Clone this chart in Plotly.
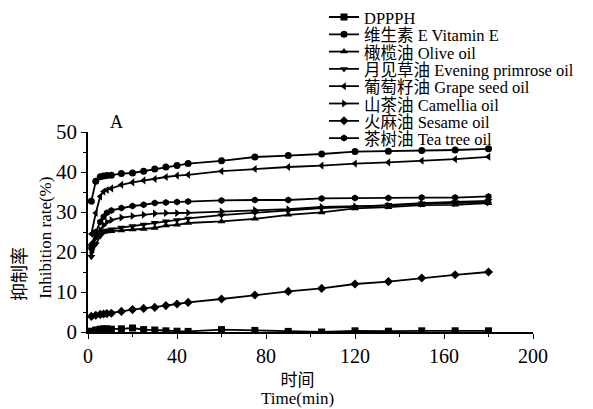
import plotly.graph_objects as go

time_min = [1.5, 3.5, 5.5, 7, 8.5, 10.5, 15, 20, 25, 30, 35, 40, 45, 60, 75, 90, 105, 120, 135, 150, 165, 180]

dppph = [0.2, 0.5, 0.7, 0.8, 0.8, 0.7, 0.8, 1.0, 0.6, 0.5, 0.3, 0.2, 0.15, 0.6, 0.4, 0.15, 0.0, 0.3, 0.2, 0.3, 0.3, 0.3]
vitamin_e = [32.7, 37.7, 38.8, 39.0, 39.1, 39.2, 39.6, 39.75, 40.2, 40.75, 41.25, 41.6, 42.1, 42.8, 43.75, 44.1, 44.5, 45.1, 45.2, 45.4, 45.5, 45.8]
olive = [22.0, 24.3, 24.8, 25.0, 25.1, 25.2, 25.4, 25.6, 25.75, 26.0, 26.6, 26.8, 27.25, 27.65, 28.3, 29.3, 29.9, 30.9, 31.2, 31.7, 31.8, 32.2]
evening_primrose = [18.8, 22.0, 24.0, 25.0, 25.4, 25.7, 26.1, 26.5, 26.9, 27.3, 27.7, 28.0, 28.4, 29.2, 29.8, 30.3, 31.0, 31.3, 31.8, 32.2, 32.5, 32.8]
grape_seed = [24.5, 29.75, 33.9, 35.1, 35.5, 35.9, 36.8, 37.4, 37.9, 38.25, 38.75, 39.1, 39.3, 40.2, 40.75, 41.25, 41.6, 42.1, 42.4, 42.8, 43.2, 43.8]
camellia = [20.0, 23.5, 25.5, 26.7, 27.5, 28.0, 28.6, 29.0, 29.3, 29.6, 29.75, 29.75, 29.8, 30.15, 30.5, 30.7, 31.25, 31.4, 31.6, 32.1, 32.2, 32.4]
sesame = [3.9, 4.2, 4.4, 4.5, 4.6, 4.7, 5.15, 5.6, 5.9, 6.15, 6.6, 7.0, 7.4, 8.25, 9.25, 10.15, 10.9, 12.0, 12.6, 13.5, 14.3, 15.0]
tea_tree = [21.0, 25.0, 27.5, 28.8, 29.8, 30.4, 31.0, 31.5, 31.8, 32.25, 32.4, 32.5, 32.65, 32.9, 33.0, 33.0, 33.4, 33.5, 33.5, 33.6, 33.6, 33.9]

series_names = ["DPPPH", "维生素 E Vitamin E", "橄榄油 Olive oil", "月见草油 Evening primrose oil",
                "葡萄籽油 Grape seed oil", "山茶油 Camellia oil", "火麻油 Sesame oil", "茶树油 Tea tree oil"]
series_values = [dppph, vitamin_e, olive, evening_primrose, grape_seed, camellia, sesame, tea_tree]
symbols = ["square", "circle", "triangle-up", "triangle-down", "triangle-left", "triangle-right", "diamond", "hexagon"]

x_ticks = [0, 40, 80, 120, 160, 200]
y_ticks = [0, 10, 20, 30, 40, 50]
x_title_lines = ["时间", "Time(min)"]

SERIF = "Liberation Serif, Noto Sans CJK SC, serif"

# plot area: 88..533 px horizontally, 132..332 px vertically
PLOT_LEFT, PLOT_W = 88, 445
PLOT_TOP, PLOT_H = 132, 200
LEGEND_FIRST_PX, LEGEND_STEP_PX = 17, 17.3
LEGEND_TEXT_SIZE = 16.5
LINE_EM = 1.3

fig = go.Figure()
legend_layouts = {}
for i, (name, vals, sym) in enumerate(zip(series_names, series_values, symbols)):
    key = "legend" if i == 0 else f"legend{i + 1}"
    fig.add_trace(go.Scatter(
        x=time_min, y=vals, mode="lines+markers", name="", legend=key,
        line=dict(color="black", width=1.8),
        marker=dict(symbol=sym, size=7, color="black"),
    ))
    center_px = LEGEND_FIRST_PX + LEGEND_STEP_PX * i
    legend_layouts[key] = dict(
        x=(324 - PLOT_LEFT) / PLOT_W, y=(PLOT_TOP + PLOT_H - center_px) / PLOT_H,
        xanchor="left", yanchor="middle",
        bgcolor="rgba(0,0,0,0)", font=dict(size=10, family=SERIF), itemwidth=30,
    )

# legend labels as one multi-line text block (line pitch set by the base font size)
legend_text = "<br>".join(
    f'<span style="font-size:{LEGEND_TEXT_SIZE}px">{n}</span>' for n in series_names
)
base_size = LEGEND_STEP_PX / LINE_EM

x_title_text = "<br>".join(f'<span style="font-size:17px">{t}</span>' for t in x_title_lines)
x_title_base = 18 / LINE_EM

fig.update_layout(
    width=593, height=409,
    margin=dict(l=88, r=60, t=132, b=77, autoexpand=False),
    paper_bgcolor="white", plot_bgcolor="white",
    font=dict(family=SERIF, color="black"),
    showlegend=True,
    xaxis=dict(range=[0, 200], tickvals=x_ticks, showline=True, linecolor="black", linewidth=1.5,
               ticks="outside", ticklen=5, tickcolor="black", showgrid=False, zeroline=False,
               tickfont=dict(size=20, family=SERIF),
               minor=dict(tickvals=[20, 60, 100, 140, 180], ticks="outside", ticklen=3, tickcolor="black")),
    yaxis=dict(range=[0, 50], tickvals=y_ticks, showline=True, linecolor="black", linewidth=1.5,
               ticks="outside", ticklen=5, tickcolor="black", showgrid=False, zeroline=False,
               tickfont=dict(size=21, family=SERIF),
               minor=dict(tickvals=[5, 15, 25, 35, 45], ticks="outside", ticklen=3, tickcolor="black")),
    annotations=[
        dict(text=legend_text, x=(363 - PLOT_LEFT) / PLOT_W,
             y=(PLOT_TOP + PLOT_H - (LEGEND_FIRST_PX - 0.5 * LEGEND_STEP_PX)) / PLOT_H,
             xref="paper", yref="paper", showarrow=False, xanchor="left", yanchor="top", align="left",
             borderpad=0, font=dict(size=base_size, family=SERIF)),
        dict(text=x_title_text, x=(297 - PLOT_LEFT) / PLOT_W, y=(PLOT_TOP + PLOT_H - 389) / PLOT_H,
             xref="paper", yref="paper", showarrow=False, xanchor="center", yanchor="middle",
             align="center", borderpad=0, font=dict(size=x_title_base, family=SERIF)),
        dict(text="抑制率", x=-0.153, y=0.29, xref="paper", yref="paper", showarrow=False, textangle=-90,
             xanchor="center", yanchor="middle", font=dict(size=18, family=SERIF)),
        dict(text="Inhibition rate(%)", x=-0.097, y=0.47, xref="paper", yref="paper", showarrow=False,
             textangle=-90, xanchor="center", yanchor="middle", font=dict(size=17, family=SERIF)),
        dict(text="A", x=0.065, y=1.05, xref="paper", yref="paper", showarrow=False,
             xanchor="center", yanchor="middle", font=dict(size=18, family=SERIF)),
    ],
)
fig.update_layout(**legend_layouts)

fig.write_html("out.html")
